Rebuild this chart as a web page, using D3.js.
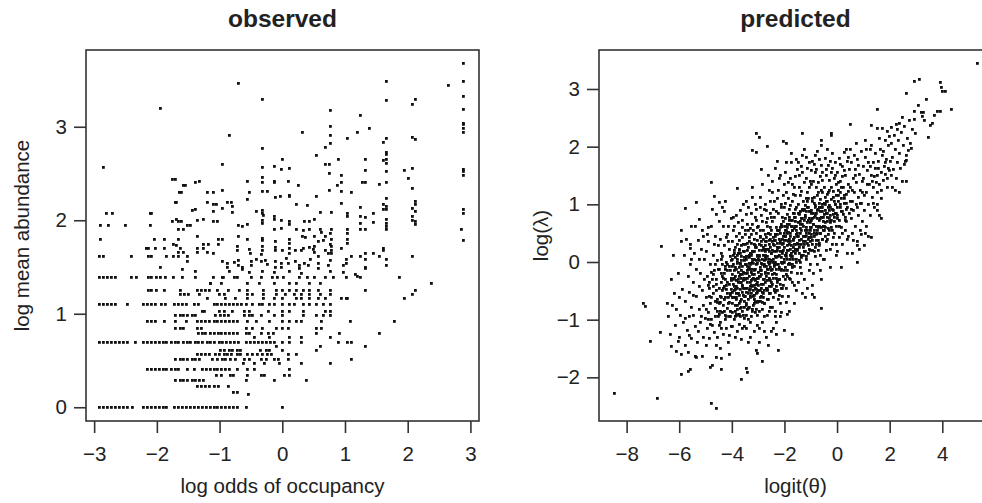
<!DOCTYPE html>
<html>
<head>
<meta charset="utf-8">
<script src="https://cdn.jsdelivr.net/npm/d3@7"></script>
<style>
  body { margin: 0; background: #fff; }
  svg { display: block; }
  text { font-family: "Liberation Sans", Arial, Helvetica, sans-serif; fill: #222; }
</style>
</head>
<body>
<svg id="chart" width="982" height="503"></svg>
<script>
// observed panel: many species sit on the same mean-abundance level, so rows of [y, xs]
const obsRows = [
  [0, [-2.92,-2.85,-2.79,-2.73,-2.66,-2.60,-2.54,-2.47,-2.39,-2.22,-2.15,-2.09,-2.03,-1.96,-1.90,-1.84,-1.72,-1.66,-1.59,-1.53,-1.47,-1.40,-1.34,-1.28,-1.21,-1.15,-1.09,-1.03,-0.97,-0.90,-0.84,-0.78,-0.71,-0.58,0.0]],
  [0.134, [-0.54]],
  [0.154, [-0.78,-0.72]],
  [0.223, [-1.35,-1.29,-1.22,-1.16,-1.09,-1.02,-0.86]],
  [0.288, [-1.70,-1.63,-1.57,-1.51,-1.44,-1.38,-1.32,-1.26,-0.57,-0.12,0.39]],
  [0.336, [-1.05,-0.97,-0.83,-0.78,-0.55,-0.33,-0.28,0.04,0.11]],
  [0.405, [-2.15,-2.09,-2.03,-1.96,-1.90,-1.84,-1.77,-1.71,-1.65,-1.52,-1.40,-1.28,-1.21,-1.15,-1.09,-1.03,-0.97,-0.90,-0.84,-0.71,-0.55,-0.44,0.11]],
  [0.47, [-0.62,-0.44,-0.28,-0.05,0.31,0.76]],
  [0.511, [-1.70,-1.63,-1.57,-1.51,-1.44,-1.38,-1.32,-1.12,-1.03,-0.96,-0.90,-0.82,-0.74,-0.60,-0.52,-0.34,-0.26,-0.12,-0.06,0.10,1.10]],
  [0.560, [-1.35,-1.29,-1.22,-1.16,-1.06,-1.00,-0.93,-0.87,-0.81,-0.71,-0.66,-0.55,-0.47,-0.39,-0.31,-0.23,-0.18,0.10,0.22]],
  [0.61, [-0.98,-0.92,-0.85,-0.79,-0.72,-0.66,-0.35,-0.25,-0.20,0.0,0.54]],
  [0.65, [-0.10,0.60,1.32]],
  [0.693, [-2.91,-2.85,-2.79,-2.72,-2.66,-2.60,-2.53,-2.47,-2.35,-2.22,-2.15,-2.09,-2.03,-1.96,-1.90,-1.84,-1.77,-1.71,-1.65,-1.58,-1.52,-1.46,-1.39,-1.33,-1.27,-1.20,-1.14,-1.08,-1.01,-0.95,-0.89,-0.82,-0.76,-0.70,-0.57,-0.51,-0.44,-0.38,-0.32,-0.25,-0.19,-0.13,0.0,0.11,0.31,0.89,1.04,1.10]],
  [0.75, [-0.44,-0.20,0.11,0.31,0.76]],
  [0.79, [-1.34,-1.28,-1.22,-1.15,-1.09,-1.02,-0.97,-0.90,-0.84,-0.78,-0.71,-0.57,-0.52,-0.33,-0.22,-0.14,0.54,0.91,1.55]],
  [0.847, [-1.70,-1.63,-1.57,-1.35,-1.29,-0.57,-0.47,-0.31,-0.10,0.0,0.10,0.54,0.63]],
  [0.916, [-2.15,-2.09,-2.03,-1.88,-1.70,-1.53,-1.35,-1.29,-1.22,-1.16,-1.09,-1.03,-0.97,-0.90,-0.84,-0.78,-0.71,-0.55,-0.42,-0.20,0.0,0.11,0.22,0.31,0.63,1.09,1.79]],
  [0.981, [-1.70,-1.63,-1.57,-1.51,-1.44,-1.38,-1.06,-0.99,-0.93,-0.86,-0.60,-0.53,-0.47,-0.33,-0.12,0.0,0.33,0.54,0.65,0.76]],
  [1.03, [-1.28,-1.24,-1.00,-0.93,-0.80,-0.60,-0.52,-0.22,0.0,0.11,0.33,0.69,0.76]],
  [1.099, [-2.92,-2.86,-2.79,-2.73,-2.66,-2.47,-2.22,-2.15,-2.09,-2.03,-1.92,-1.86,-1.72,-1.66,-1.59,-1.53,-1.40,-1.34,-1.09,-1.03,-0.97,-0.90,-0.84,-0.78,-0.71,-0.65,-0.57,-0.47,-0.36,-0.31,-0.20,-0.12,0.0,0.11,0.20,0.33,0.44,0.54,0.65,0.76]],
  [1.16, [-1.20,-0.90,-0.75,-0.55,-0.30,-0.12,0.0,0.22,0.30,0.44,0.57,0.69,0.95,1.02,1.04,1.95]],
  [1.204, [-1.62,-1.56,-1.50,-1.32,-1.00,-0.93,-0.55,-0.47,-0.30,-0.10,0.05,0.20,0.31,0.44,0.60,0.76,2.07]],
  [1.253, [-2.14,-2.08,-2.01,-1.88,-1.62,-1.35,-1.29,-1.22,-1.16,-1.04,-0.86,-0.69,-0.55,-0.30,-0.10,0.0,0.11,0.22,0.33,0.44,0.57,0.76,1.32,2.12]],
  [1.32, [-1.15,-0.97,-0.55,-0.36,-0.12,0.11,0.22,0.44,0.60,2.38]],
  [1.386, [-2.92,-2.86,-2.79,-2.73,-2.66,-2.41,-2.32,-2.14,-2.08,-2.00,-1.94,-1.87,-1.74,-1.60,-1.38,-1.10,-0.96,-0.94,-0.76,-0.71,-0.49,-0.33,-0.15,-0.07,0.01,0.28,0.40,0.52,0.68,0.81,1.02,1.25,1.86]],
  [1.609, [-2.92,-2.86,-2.41,-2.14,-2.08,-1.84,-1.73,-1.65,-1.52]]
];

// observed panel: points off the common levels
const obsScatter = [
  [-1.94,1.50],[-1.60,1.47],[-1.38,1.45],[-1.52,1.56],[-1.65,1.66],[-1.58,1.66],[-1.36,1.66],[-1.20,1.66],
  [-2.13,1.70],[-1.88,1.70],[-1.36,1.70],[-1.74,1.74],[-1.25,1.74],[-2.90,1.79],[-2.04,1.79],[-1.88,1.79],
  [-1.65,1.79],[-1.36,1.83],[-1.65,1.90],[-1.58,1.90],[-2.90,1.95],[-2.77,1.95],[-2.50,1.95],[-2.10,1.95],
  [-1.52,1.95],[-1.75,1.99],[-1.65,1.99],[-1.10,1.99],[-1.36,2.00],[-2.80,2.07],[-2.10,2.07],[-1.44,2.11],
  [-1.10,2.10],[-1.71,2.19],[-1.20,2.19],[-1.64,2.30],[-1.20,2.30],[-1.58,2.37],[-1.38,2.40],[-1.75,2.44],
  [-2.85,2.57],[-1.94,3.20],[-1.10,1.65],[-1.26,1.70],[-1.15,1.33],
  [0.54,2.69],[0.0,2.65],[0.68,2.60],[0.75,2.60],[0.90,2.65],[-0.96,2.60],[-0.32,2.57],[-0.12,2.58],
  [-0.02,2.54],[0.11,2.55],[0.75,2.50],[0.95,2.48],[-0.32,2.46],[-0.55,2.42],[-0.32,2.40],[-0.12,2.42],
  [-0.12,2.40],[0.09,2.42],[0.95,2.40],[0.88,2.37],[0.25,2.37],[-0.96,2.32],[-0.52,2.30],[-0.32,2.31],
  [-0.23,2.31],[0.75,2.32],[0.95,2.31],[-0.03,2.25],[0.11,2.27],[0.11,2.25],[0.54,2.26],[-0.11,2.24],
  [-0.55,2.22],[-0.88,2.19],[-0.81,2.19],[-0.96,2.13],[-0.79,2.15],[-0.79,2.08],[0.22,2.17],[0.40,2.16],
  [0.95,2.18],[-0.41,2.10],[-0.32,2.11],[-0.32,2.07],[-0.30,2.05],[-0.12,2.04],[-0.12,2.01],[-0.02,2.00],
  [0.60,2.08],[0.78,2.08],[1.04,2.07],[1.04,2.04],[0.11,1.99],[0.11,1.96],[-0.32,2.00],[-0.32,1.97],
  [0.35,1.99],[0.44,1.99],[0.52,2.01],[-0.70,1.95],[-0.63,1.93],[-0.55,1.96],[-0.12,1.90],[-0.02,1.91],
  [0.22,1.90],[0.33,1.89],[0.44,1.90],[0.60,1.90],[0.62,1.87],[0.78,1.90],[0.77,1.86],[1.04,1.90],
  [1.04,1.86],[-0.96,1.80],[-0.70,1.83],[-0.32,1.81],[-0.32,1.78],[-0.55,1.80],[-0.11,1.77],[0.11,1.79],
  [0.11,1.75],[0.52,1.83],[0.57,1.77],[0.32,1.83],[0.37,1.82],[0.69,1.83],[0.66,1.78],[0.78,1.79],
  [0.77,1.74],[1.04,1.79],[1.04,1.75],[-0.72,1.72],[-0.72,1.68],[-0.52,1.69],[-0.51,1.65],[-0.32,1.72],
  [-0.32,1.68],[-0.33,1.64],[-0.11,1.71],[-0.11,1.68],[0.0,1.68],[0.11,1.70],[0.11,1.65],[0.21,1.68],
  [0.30,1.68],[0.33,1.70],[0.44,1.71],[0.49,1.69],[0.52,1.72],[0.51,1.66],[0.68,1.68],[0.73,1.65],
  [0.78,1.72],[0.78,1.68],[0.78,1.65],[0.95,1.70],[-0.95,1.56],[-0.88,1.54],[-0.88,1.50],[-0.76,1.55],
  [-0.70,1.57],[-0.70,1.52],[-0.63,1.50],[-0.63,1.47],[-0.49,1.56],[-0.49,1.52],[-0.41,1.58],[-0.33,1.56],
  [-0.27,1.57],[-0.24,1.53],[-0.11,1.56],[-0.11,1.50],[-0.02,1.54],[-0.02,1.50],[0.06,1.59],[0.09,1.54],
  [0.21,1.56],[0.28,1.52],[0.28,1.49],[0.35,1.54],[0.41,1.52],[0.45,1.58],[0.57,1.54],[0.57,1.49],
  [0.57,1.61],[0.73,1.52],[0.77,1.57],[0.97,1.52],[1.02,1.58],[1.02,1.54],
  [-0.85,1.45],[-0.52,1.44],[-0.32,1.45],[-0.12,1.44],[0.11,1.45],[0.30,1.43],[0.76,1.45],[0.97,1.44],
  [2.89,3.68],[1.66,3.49],[2.89,3.48],[2.65,3.44],[-0.70,3.46],[2.89,3.32],[2.12,3.29],[2.07,3.24],
  [-0.32,3.29],[1.66,3.28],[2.89,3.19],[0.76,3.18],[1.25,3.12],[2.89,3.04],[2.89,3.02],[2.89,2.98],
  [2.89,2.94],[1.39,2.98],[0.76,3.00],[0.76,2.91],[0.32,2.94],[1.19,2.94],[-0.85,2.91],[1.04,2.88],
  [1.66,2.88],[2.07,2.89],[2.12,2.86],[1.61,2.83],[0.76,2.82],[0.68,2.78],[-0.32,2.77],[1.66,2.73],
  [1.66,2.70],[1.66,2.65],[1.66,2.61],[1.61,2.64],[1.33,2.65],[1.66,2.52],[1.33,2.53],[1.94,2.53],
  [2.07,2.55],[2.89,2.54],[2.89,2.52],[2.89,2.48],[2.01,2.45],[-1.32,2.42],[-1.71,2.44],[1.66,2.41],
  [1.28,2.41],[1.33,2.40],[1.55,2.38],[-1.55,2.37],[2.07,2.34],[1.10,2.30],[-1.10,2.30],[-1.61,2.30],
  [1.66,2.23],[-1.69,2.19],[-1.10,2.17],[-1.05,2.17],[2.12,2.20],[2.12,2.17],[1.61,2.17],[1.66,2.15],
  [1.66,2.12],[1.61,2.12],[1.25,2.14],[2.07,2.13],[2.12,2.09],[2.89,2.12],[2.89,2.07],[-1.38,2.12],
  [-2.08,2.07],[-2.71,2.07],[1.45,2.07],[2.07,2.04],[2.07,2.00],[1.25,2.04],[1.32,2.03],[-1.04,1.99],
  [-1.26,2.01],[1.66,2.01],[1.66,1.97],[1.66,1.93],[1.66,1.90],[2.12,1.99],[2.12,1.96],[-1.69,2.01],
  [-1.61,1.99],[-1.47,1.94],[1.25,1.97],[1.25,1.90],[1.33,1.90],[1.45,1.98],[-1.69,1.73],[-1.63,1.70],
  [-2.16,1.70],[-2.03,1.70],[-1.18,1.74],[-1.02,1.80],[-1.02,1.74],[1.61,1.70],[1.61,1.68],[1.66,1.58],
  [1.66,1.52],[1.55,1.61],[1.45,1.65],[1.33,1.65],[1.33,1.58],[2.07,1.61],[1.33,1.50],[1.33,1.48],
  [1.16,1.42],[1.19,1.40],[2.89,1.78],[2.85,1.90],[1.10,1.61],[1.25,1.61]
];

// predicted panel: logit(theta) vs log(lambda), outer and spread points
const predPoints = [
  [-8.47,-2.28],[-6.84,-2.36],[-4.79,-2.45],[-4.60,-2.54],[-7.35,-0.72],[-7.30,-0.77],[-7.10,-1.37],[-6.72,-1.22],
  [-6.67,0.27],[-4.79,1.38],[-3.78,1.28],[-4.66,1.13],[-4.47,1.03],[-5.36,1.03],[-5.77,0.93],[-5.23,0.74],
  [-5.55,0.62],[-5.11,0.55],[-4.94,0.47],[-5.91,0.35],[-5.58,0.31],[-5.59,0.24],[-6.19,-0.54],[-6.44,-0.72],
  [-6.25,-0.75],[-6.12,-0.83],[-6.30,-1.47],[-6.02,-1.38],[-5.75,-1.45],[-5.60,-1.28],[-5.90,-1.60],[-5.64,-1.56],
  [-5.38,-1.63],[-5.12,-1.63],[-5.92,-1.95],[-5.67,-1.90],[-5.58,-1.87],[-4.80,-1.82],[-4.73,-1.79],[-4.41,-1.87],
  [-4.60,-1.65],[-4.41,-1.67],[-4.10,-1.61],[-3.46,-1.85],[-3.42,-1.91],[-3.62,-2.03],[-3.08,-1.53],[-3.01,-1.59],
  [-2.82,-1.72],[-2.23,-1.53],[-2.32,-1.25],[-2.00,-1.18],[-1.71,-1.25],[-0.61,-0.80],[-0.93,-0.57],[-0.87,-0.62],
  [0.76,-0.01],[1.04,0.28],[0.79,0.29],[1.32,0.43],[1.62,0.80],[1.68,0.75],[1.55,0.90],
  [5.35,3.45],[2.94,3.14],[3.13,3.17],[3.93,3.12],[3.98,3.03],[4.11,2.95],[2.62,2.92],[1.55,2.64],
  [4.36,2.65],[2.94,2.62],[3.19,2.59],[3.26,2.52],[3.32,2.46],[3.93,2.62],[3.70,2.55],[3.55,2.36],
  [3.47,2.16],[0.51,2.39],[2.50,2.51],[2.37,2.40],[2.24,2.39],[1.32,2.36],[1.55,2.32],[1.74,2.31],
  [2.06,2.34],[1.93,2.27],[2.00,2.18],[2.97,2.23],[2.84,1.97],[2.71,1.94],[2.62,1.85],[2.65,1.77],
  [2.56,1.70],[2.65,1.40],[2.50,1.39],[2.37,1.21],[2.20,1.24],[-1.31,2.23],[-3.08,2.23],[-2.95,2.16],
  [-0.20,2.23],[-0.20,2.19],[-0.61,2.10],[-0.61,2.02],[-2.03,2.09],[-1.93,2.05],[-2.64,2.00],[-3.20,1.94],[-3.05,1.90],
  // x from -6.5 to -5.5
  [-6.40,-0.95],[-6.30,-0.30],[-6.15,-1.10],[-6.05,-0.20],[-6.22,0.12],[-6.10,-1.55],[-6.35,-1.25],[-6.00,-0.62],
  [-5.95,-0.92],[-5.88,-0.47],[-5.85,-1.05],[-5.80,0.12],[-5.75,-0.68],[-5.70,-1.18],[-5.66,-0.25],[-5.62,-0.95],
  [-5.58,-0.05],[-5.55,-1.32],[-5.52,-0.78],[-5.90,0.55],[-5.72,0.40],[-5.60,-0.52],[-5.98,-1.30],[-5.53,0.05],[-5.78,-0.98],
  // -5.5 to -5
  [-5.48,-0.35],[-5.45,-0.92],[-5.42,0.15],[-5.40,-1.12],[-5.36,-0.60],[-5.33,-0.12],[-5.30,-1.40],[-5.27,0.38],
  [-5.24,-0.82],[-5.20,-0.20],[-5.18,-1.05],[-5.15,0.22],[-5.12,-0.50],[-5.10,-1.30],[-5.07,-0.75],[-5.04,0.05],
  [-5.02,-0.98],[-5.46,-0.58],[-5.38,0.62],[-5.28,-1.20],[-5.22,-0.42],[-5.16,-0.95],[-5.08,0.45],[-5.03,-0.30],
  [-5.35,-1.65],[-5.25,0.05],
  // -5 to -4.5
  [-4.98,-0.62],[-4.96,0.18],[-4.94,-1.15],[-4.92,-0.25],[-4.90,-0.88],[-4.88,0.35],[-4.86,-0.45],[-4.84,-1.32],
  [-4.82,-0.05],[-4.80,-0.72],[-4.78,0.62],[-4.76,-1.00],[-4.74,-0.30],[-4.72,0.12],[-4.70,-0.55],[-4.68,-1.22],
  [-4.66,-0.15],[-4.64,0.45],[-4.62,-0.80],[-4.60,-0.38],[-4.58,-1.45],[-4.56,0.02],[-4.54,-0.65],[-4.52,0.28],
  [-4.50,-0.95],[-4.97,-1.45],[-4.91,0.60],[-4.85,-0.60],[-4.79,-0.18],[-4.73,-1.10],[-4.67,0.30],[-4.61,-0.05],
  [-4.55,-0.85],[-4.53,-1.30],[-4.89,-1.00],[-4.69,-0.42],[-4.59,0.82],[-4.75,0.92],[-4.87,-0.35],[-4.63,-0.68],
  // -4.5 to -4
  [-4.49,-0.12],[-4.47,-0.72],[-4.45,0.40],[-4.43,-1.05],[-4.41,-0.35],[-4.39,0.15],[-4.37,-0.88],[-4.35,-0.50],
  [-4.33,0.62],[-4.31,-1.25],[-4.29,-0.20],[-4.27,0.28],[-4.25,-0.62],[-4.23,-1.00],[-4.21,0.00],[-4.19,-0.40],
  [-4.17,0.48],[-4.15,-0.80],[-4.13,-1.40],[-4.11,-0.08],[-4.09,0.22],[-4.07,-0.55],[-4.05,-0.95],[-4.03,0.75],
  [-4.01,-0.28],[-4.48,-0.45],[-4.44,-1.50],[-4.40,0.05],[-4.36,-0.25],[-4.32,-0.75],[-4.28,0.88],[-4.24,-0.12],
  [-4.20,-1.15],[-4.16,-0.35],[-4.12,0.35],[-4.08,-0.70],[-4.04,-0.15],[-4.02,-1.12],[-4.46,0.70],[-4.42,-0.60],
  [-4.38,-1.15],[-4.34,0.10],[-4.30,-0.42],[-4.26,-0.92],[-4.22,0.42],[-4.18,-0.05],[-4.14,-0.62],[-4.10,-1.28],
  [-4.06,0.10],[-4.00,-0.48],[-4.26,1.05],[-4.12,0.62],[-4.36,0.95],[-4.46,-0.90],[-4.06,-0.85],
  // -4 to -3.5
  [-3.99,-0.62],[-3.97,0.05],[-3.95,-0.30],[-3.93,0.55],[-3.91,-1.00],[-3.89,-0.15],[-3.87,0.25],[-3.85,-0.75],
  [-3.83,-0.42],[-3.81,0.80],[-3.79,-1.20],[-3.77,0.00],[-3.75,-0.55],[-3.73,0.38],[-3.71,-0.90],[-3.69,-0.22],
  [-3.67,0.15],[-3.65,-1.35],[-3.63,-0.65],[-3.61,0.60],[-3.59,-0.08],[-3.57,-0.45],[-3.55,0.30],[-3.53,-0.98],
  [-3.51,-0.28],[-3.98,0.35],[-3.96,-0.88],[-3.94,-0.05],[-3.92,-0.50],[-3.90,0.15],[-3.88,-1.30],[-3.86,-0.25],
  [-3.84,0.45],[-3.82,-0.62],[-3.80,-0.02],[-3.78,-0.82],[-3.76,0.68],[-3.74,-0.35],[-3.72,-1.08],[-3.70,0.20],
  [-3.68,-0.48],[-3.66,0.90],[-3.64,-0.15],[-3.62,-0.78],[-3.60,0.42],[-3.58,-1.15],[-3.56,-0.32],[-3.54,0.08],
  [-3.52,-0.68],[-3.50,0.55],[-3.97,-1.12],[-3.93,-0.38],[-3.89,0.62],[-3.85,-0.10],[-3.81,-0.55],[-3.77,0.30],
  [-3.73,-0.72],[-3.69,-0.02],[-3.65,0.28],[-3.61,-0.40],[-3.57,-0.92],[-3.53,0.18],[-3.95,0.78],[-3.87,-0.62],
  [-3.79,0.12],[-3.71,0.50],[-3.63,-0.28],[-3.55,-0.58],[-3.91,0.20],[-3.83,-0.90],[-3.75,-0.18],[-3.67,-0.95],
  [-3.59,0.72],[-3.51,-1.12],[-3.57,1.00],
  // -3.5 to -3
  [-3.49,-0.20],[-3.47,0.30],[-3.45,-0.72],[-3.43,0.05],[-3.41,-0.45],[-3.39,0.65],[-3.37,-1.00],[-3.35,-0.10],
  [-3.33,0.42],[-3.31,-0.60],[-3.29,0.15],[-3.27,-0.32],[-3.25,0.85],[-3.23,-0.85],[-3.21,0.00],[-3.19,-0.50],
  [-3.17,0.55],[-3.15,-1.20],[-3.13,-0.15],[-3.11,0.25],[-3.09,-0.68],[-3.07,0.72],[-3.05,-0.38],[-3.03,0.10],
  [-3.01,-0.92],[-3.48,0.48],[-3.46,-0.05],[-3.44,-1.15],[-3.42,0.20],[-3.40,-0.28],[-3.38,0.95],[-3.36,-0.55],
  [-3.34,0.08],[-3.32,-0.78],[-3.30,0.58],[-3.28,-0.12],[-3.26,-0.95],[-3.24,0.32],[-3.22,-0.42],[-3.20,1.12],
  [-3.18,-0.02],[-3.16,-0.65],[-3.14,0.40],[-3.12,-0.30],[-3.10,0.78],[-3.08,-0.82],[-3.06,0.02],[-3.04,-0.52],
  [-3.02,0.38],[-3.00,-0.18],[-3.47,-0.60],[-3.43,0.82],[-3.39,-0.35],[-3.35,0.35],[-3.31,-1.05],[-3.27,0.48],
  [-3.23,-0.22],[-3.19,0.18],[-3.15,-0.40],[-3.11,-0.88],[-3.07,0.50],[-3.03,-0.28],[-3.45,0.10],[-3.37,-0.12],
  [-3.29,-0.48],[-3.21,0.65],[-3.13,-0.58],[-3.05,0.92],[-3.41,-0.82],[-3.33,-0.25],[-3.25,0.12],[-3.17,-0.75],
  [-3.09,0.28],[-3.01,0.60],[-3.44,1.05],[-3.36,0.55],[-3.28,-1.30],[-3.20,-0.30],[-3.12,1.00],[-3.04,-1.10],
  [-3.46,-0.92],[-3.30,-0.02],[-3.14,0.05],[-3.22,1.30],[-3.38,-1.40],
  // -3 to -2.5
  [-2.99,-0.40],[-2.97,0.10],[-2.95,-0.85],[-2.93,0.45],[-2.91,-0.15],[-2.89,0.80],[-2.87,-0.60],[-2.85,0.20],
  [-2.83,-1.05],[-2.81,-0.30],[-2.79,0.55],[-2.77,-0.05],[-2.75,-0.72],[-2.73,0.35],[-2.71,1.00],[-2.69,-0.45],
  [-2.67,0.05],[-2.65,-0.92],[-2.63,0.62],[-2.61,-0.20],[-2.59,0.30],[-2.57,-0.55],[-2.55,0.85],[-2.53,-0.10],
  [-2.51,-1.20],[-2.98,0.62],[-2.96,-0.25],[-2.94,0.02],[-2.92,-0.68],[-2.90,1.12],[-2.88,0.28],[-2.86,-0.38],
  [-2.84,0.70],[-2.82,-0.82],[-2.80,0.12],[-2.78,-0.50],[-2.76,0.92],[-2.74,-0.18],[-2.72,0.48],[-2.70,-1.30],
  [-2.68,0.22],[-2.66,-0.32],[-2.64,0.75],[-2.62,-0.65],[-2.60,0.00],[-2.58,1.25],[-2.56,-0.42],[-2.54,0.40],
  [-2.52,-0.78],[-2.50,0.15],[-2.97,-1.15],[-2.93,0.95],[-2.89,-0.02],[-2.85,-0.52],[-2.81,0.40],[-2.77,-0.95],
  [-2.73,0.08],[-2.69,0.68],[-2.65,-0.12],[-2.61,0.50],[-2.57,-0.30],[-2.53,0.60],[-2.95,0.30],[-2.87,-0.15],
  [-2.79,-0.62],[-2.71,0.18],[-2.63,-0.48],[-2.55,0.25],[-2.91,0.55],[-2.83,1.35],[-2.75,-0.30],[-2.67,0.90],
  [-2.59,-0.85],[-2.51,0.78],[-2.99,-0.68],[-2.70,0.42],[-2.62,1.50],[-2.86,1.60],[-2.78,-1.20],[-2.56,-0.05],
  [-2.60,-1.45],[-2.94,-1.40],[-2.52,1.05],
  // -2.5 to -2
  [-2.49,-0.35],[-2.47,0.20],[-2.45,0.70],[-2.43,-0.62],[-2.41,0.05],[-2.39,1.05],[-2.37,-0.20],[-2.35,0.45],
  [-2.33,-0.85],[-2.31,0.88],[-2.29,-0.05],[-2.27,0.32],[-2.25,-0.50],[-2.23,1.25],[-2.21,0.12],[-2.19,-0.30],
  [-2.17,0.60],[-2.15,-0.72],[-2.13,0.95],[-2.11,0.00],[-2.09,0.40],[-2.07,-0.45],[-2.05,1.15],[-2.03,0.20],
  [-2.01,-0.15],[-2.48,0.55],[-2.46,-0.12],[-2.44,1.40],[-2.42,0.30],[-2.40,-0.48],[-2.38,0.78],[-2.36,-0.95],
  [-2.34,0.10],[-2.32,0.60],[-2.30,-0.28],[-2.28,1.10],[-2.26,0.48],[-2.24,-0.65],[-2.22,0.85],[-2.20,-0.10],
  [-2.18,0.25],[-2.16,1.50],[-2.14,-0.38],[-2.12,0.65],[-2.10,-0.88],[-2.08,0.15],[-2.06,0.78],[-2.04,-0.25],
  [-2.02,0.50],[-2.00,1.35],[-2.47,-0.78],[-2.43,0.92],[-2.39,-0.08],[-2.35,1.62],[-2.31,0.18],[-2.27,-0.35],
  [-2.23,0.55],[-2.19,-0.58],[-2.15,0.35],[-2.11,1.00],[-2.07,-0.02],[-2.03,0.70],[-2.45,1.20],[-2.37,0.38],
  [-2.29,-1.05],[-2.21,1.45],[-2.13,-0.15],[-2.05,0.32],[-2.41,-1.15],[-2.25,1.75],[-2.09,-0.60],[-2.33,0.00],
  [-2.17,-0.95],[-2.01,0.95],[-2.44,-0.22],
  // -2 to -1.5
  [-1.99,0.25],[-1.97,-0.30],[-1.95,0.75],[-1.93,0.10],[-1.91,1.20],[-1.89,-0.15],[-1.87,0.50],[-1.85,-0.60],
  [-1.83,0.92],[-1.81,0.30],[-1.79,1.45],[-1.77,-0.05],[-1.75,0.62],[-1.73,0.15],[-1.71,1.05],[-1.69,-0.35],
  [-1.67,0.40],[-1.65,0.85],[-1.63,-0.08],[-1.61,1.30],[-1.59,0.22],[-1.57,0.70],[-1.55,-0.50],[-1.53,0.48],
  [-1.51,1.60],[-1.98,0.55],[-1.96,1.02],[-1.94,-0.45],[-1.92,0.38],[-1.90,0.82],[-1.88,0.05],[-1.86,1.38],
  [-1.84,0.20],[-1.82,0.65],[-1.80,-0.28],[-1.78,0.98],[-1.76,0.35],[-1.74,1.72],[-1.72,-0.18],[-1.70,0.55],
  [-1.68,0.10],[-1.66,1.18],[-1.64,0.30],[-1.62,-0.72],[-1.60,0.78],[-1.58,1.48],[-1.56,0.05],[-1.54,0.95],
  [-1.52,0.32],[-1.50,-0.20],[-1.97,1.55],[-1.93,-0.70],[-1.89,0.60],[-1.85,1.10],[-1.81,-0.02],[-1.77,0.45],
  [-1.73,1.88],[-1.69,0.72],[-1.65,0.18],[-1.61,-0.40],[-1.57,1.15],[-1.53,0.62],[-1.95,0.45],[-1.87,-0.90],
  [-1.79,0.22],[-1.71,1.35],[-1.63,0.58],[-1.55,1.78],[-1.91,1.72],[-1.83,-0.85],
  // -1.5 to -1
  [-1.49,0.50],[-1.47,1.00],[-1.45,0.15],[-1.43,1.50],[-1.41,0.70],[-1.39,-0.10],[-1.37,1.22],[-1.35,0.40],
  [-1.33,0.90],[-1.31,1.85],[-1.29,0.25],[-1.27,0.62],[-1.25,1.38],[-1.23,-0.30],[-1.21,0.80],[-1.19,0.35],
  [-1.17,1.10],[-1.15,0.05],[-1.13,1.62],[-1.11,0.55],[-1.09,0.95],[-1.07,-0.15],[-1.05,1.30],[-1.03,0.68],
  [-1.01,0.20],[-1.48,1.72],[-1.46,-0.35],[-1.44,0.82],[-1.42,0.30],[-1.40,1.15],[-1.38,0.58],[-1.36,1.65],
  [-1.34,0.12],[-1.32,0.75],[-1.30,-0.55],[-1.28,1.05],[-1.26,0.45],[-1.24,1.95],[-1.22,0.18],[-1.20,0.98],
  [-1.18,1.45],[-1.16,0.50],[-1.14,-0.45],[-1.12,1.20],[-1.10,0.72],[-1.08,0.28],[-1.06,1.72],[-1.04,0.88],
  [-1.02,-0.05],[-1.00,1.40],[-1.45,1.30],[-1.35,-0.20],[-1.25,0.92],[-1.15,1.82],[-1.05,0.42],[-1.40,0.00],
  [-1.20,-0.62],[-1.30,1.55],[-1.10,1.10],[-1.00,0.60],
  // -1 to -0.5
  [-0.99,0.90],[-0.97,1.35],[-0.95,0.30],[-0.93,1.75],[-0.91,0.65],[-0.89,-0.20],[-0.87,1.12],[-0.85,0.45],
  [-0.83,1.55],[-0.81,0.10],[-0.79,0.85],[-0.77,1.30],[-0.75,0.55],[-0.73,1.92],[-0.71,0.20],[-0.69,1.02],
  [-0.67,0.72],[-0.65,1.48],[-0.63,-0.15],[-0.61,0.95],[-0.59,1.68],[-0.57,0.40],[-0.55,1.20],[-0.53,0.78],
  [-0.51,0.05],[-0.98,1.58],[-0.96,0.48],[-0.94,1.05],[-0.92,-0.40],[-0.90,1.40],[-0.88,0.78],[-0.86,0.18],
  [-0.84,1.85],[-0.82,0.98],[-0.80,0.38],[-0.78,1.60],[-0.76,-0.05],[-0.74,1.15],[-0.72,0.60],[-0.70,1.38],
  [-0.68,0.28],[-0.66,1.78],[-0.64,0.88],[-0.62,0.50],[-0.60,1.25],[-0.58,-0.30],[-0.56,0.95],[-0.54,1.55],
  [-0.52,0.62],[-0.50,1.02],[-0.95,0.75],[-0.85,1.70],[-0.75,0.90],[-0.65,0.12],[-0.55,1.42],
  // -0.5 to 0
  [-0.49,1.30],[-0.47,0.55],[-0.45,1.80],[-0.43,0.90],[-0.41,0.20],[-0.39,1.50],[-0.37,1.05],[-0.35,0.40],
  [-0.33,1.68],[-0.31,0.75],[-0.29,1.25],[-0.27,-0.10],[-0.25,0.95],[-0.23,1.55],[-0.21,0.60],[-0.19,1.88],
  [-0.17,0.30],[-0.15,1.12],[-0.13,0.82],[-0.11,1.45],[-0.09,0.50],[-0.07,1.72],[-0.05,1.00],[-0.03,0.12],
  [-0.01,1.35],[-0.48,0.05],[-0.46,1.12],[-0.44,0.68],[-0.42,1.60],[-0.40,0.35],[-0.38,0.85],[-0.36,1.95],
  [-0.34,1.20],[-0.32,0.48],[-0.30,1.42],[-0.28,0.98],[-0.26,0.22],[-0.24,1.75],[-0.22,0.72],[-0.20,1.30],
  [-0.18,0.92],[-0.16,1.62],[-0.14,0.42],[-0.12,1.05],[-0.10,0.70],[-0.08,1.50],[-0.06,0.85],[-0.04,0.30],
  [-0.02,1.15],[0.00,0.95],
  // 0 to 0.5
  [0.01,1.55],[0.03,0.75],[0.05,1.25],[0.07,0.42],[0.09,1.80],[0.11,0.95],[0.13,1.40],[0.15,0.60],
  [0.17,1.10],[0.19,1.65],[0.21,0.30],[0.23,1.30],[0.25,0.82],[0.27,1.90],[0.29,1.02],[0.31,0.55],
  [0.33,1.50],[0.35,1.18],[0.37,0.70],[0.39,1.75],[0.41,0.95],[0.43,1.35],[0.45,0.45],[0.47,1.60],
  [0.49,1.05],[0.02,0.18],[0.06,1.05],[0.10,0.62],[0.14,1.70],[0.18,0.88],[0.22,1.48],[0.26,1.15],
  [0.30,0.72],[0.34,1.95],[0.38,0.40],[0.42,1.22],[0.46,0.85],[0.04,1.38],[0.12,1.20],[0.20,0.50],
  [0.28,1.58],[0.36,0.92],[0.44,1.82],[0.16,-0.10],[0.40,0.15],
  // 0.5 to 1
  [0.51,1.30],[0.53,0.75],[0.55,1.72],[0.57,1.05],[0.59,0.50],[0.61,1.45],[0.63,0.90],[0.65,1.85],
  [0.67,1.20],[0.69,0.62],[0.71,1.60],[0.73,1.00],[0.75,1.38],[0.77,0.35],[0.79,1.78],[0.81,1.12],
  [0.83,0.80],[0.85,1.52],[0.87,1.25],[0.89,0.55],[0.91,1.92],[0.93,1.02],[0.95,1.40],[0.97,0.70],
  [0.99,1.65],[0.52,1.95],[0.58,1.25],[0.64,0.38],[0.70,1.50],[0.76,0.95],[0.82,1.68],[0.88,1.02],
  [0.94,0.48],[0.60,0.15],[0.72,2.05],[0.84,0.22],[0.96,1.20],[0.56,0.92],
  // 1 and above
  [1.01,1.45],[1.04,0.90],[1.07,1.82],[1.10,1.20],[1.13,0.62],[1.16,1.58],[1.19,1.00],[1.22,1.35],
  [1.25,1.95],[1.28,0.80],[1.31,1.50],[1.34,1.12],[1.37,1.72],[1.40,1.30],[1.43,0.95],[1.46,1.62],
  [1.49,1.38],[1.03,1.15],[1.09,2.10],[1.15,1.35],[1.21,0.45],[1.27,1.65],[1.33,1.40],[1.39,1.02],
  [1.45,1.88],[1.06,0.50],[1.18,1.72],[1.30,2.02],[1.42,1.48],[1.12,1.95],
  [1.52,1.50],[1.55,1.20],[1.58,1.75],[1.61,1.35],[1.64,1.95],[1.67,1.55],[1.70,1.10],[1.73,1.85],
  [1.76,1.42],[1.79,1.65],[1.82,2.10],[1.85,1.52],[1.88,1.78],[1.91,1.30],[1.94,1.62],[1.97,2.02],
  [1.53,1.00],[1.60,2.15],[1.68,1.25],[1.75,1.92],[1.83,1.72],[1.90,1.45],[1.98,1.58],[1.57,1.62],
  [2.02,1.75],[2.05,1.50],[2.08,2.05],[2.12,1.82],[2.15,1.60],[2.18,2.20],[2.22,1.95],[2.26,1.45],
  [2.30,1.72],[2.34,2.10],[2.38,1.88],[2.42,1.62],[2.46,2.25],[2.10,1.30],[2.28,2.30],
  [2.52,2.02],[2.58,1.75],[2.68,2.15],[2.78,2.05],[2.88,2.30],[2.75,2.45],[2.55,2.35],[2.95,2.48],
  [3.08,2.72],[3.28,2.60],[3.40,2.82],[3.62,2.40],[3.80,2.62],[4.02,2.95]
];

// predicted panel: the dense core of the cloud
const predCore = [
  [-4.95,-0.82],[-4.90,-0.40],[-4.82,-1.08],[-4.76,-0.62],[-4.70,-0.22],[-4.64,-0.95],[-4.57,-0.50],[-4.52,-0.12],[-4.47,-1.10],[-4.44,-0.70],
  [-4.38,-0.62],[-4.33,-0.28],[-4.27,-0.85],[-4.22,-0.48],[-4.18,-0.15],[-4.12,-0.72],[-4.08,-0.38],[-4.03,0.02],[-4.35,-0.05],[-4.20,-0.95],[-4.05,-0.58],
  [-3.99,-0.22],[-3.96,-0.72],[-3.93,0.12],[-3.90,-0.42],[-3.87,-0.85],[-3.84,-0.12],[-3.81,-0.65],[-3.78,0.05],[-3.76,-0.30],[-3.98,-0.52],[-3.85,-0.48],[-3.79,-0.92],
  [-3.74,-0.55],[-3.71,-0.10],[-3.68,-0.68],[-3.65,-0.35],[-3.62,0.10],[-3.60,-0.85],[-3.57,-0.18],[-3.54,-0.60],[-3.52,0.02],[-3.73,-0.25],[-3.66,-0.05],[-3.58,-0.42],[-3.70,0.22],
  [-3.49,-0.45],[-3.46,0.10],[-3.43,-0.75],[-3.40,-0.15],[-3.38,0.25],[-3.35,-0.50],[-3.32,-0.02],[-3.29,-0.62],[-3.27,0.15],[-3.48,-0.30],[-3.42,-0.08],[-3.36,-0.80],[-3.30,-0.35],[-3.26,-0.18],
  [-3.24,-0.40],[-3.21,0.18],[-3.18,-0.60],[-3.16,-0.22],[-3.13,0.30],[-3.10,-0.45],[-3.07,-0.05],[-3.04,-0.70],[-3.02,0.12],[-3.23,-0.12],[-3.17,0.05],[-3.11,-0.32],[-3.05,-0.48],[-3.20,-0.82],
  [-2.99,-0.28],[-2.96,0.20],[-2.93,-0.50],[-2.90,-0.10],[-2.88,0.35],[-2.85,-0.70],[-2.82,0.05],[-2.79,-0.38],[-2.77,0.22],[-2.98,0.05],[-2.92,-0.62],[-2.86,-0.22],[-2.80,-0.55],[-2.76,-0.08],
  [-2.74,-0.20],[-2.71,0.28],[-2.68,-0.45],[-2.65,0.10],[-2.63,-0.65],[-2.60,-0.12],[-2.57,0.38],[-2.54,-0.32],[-2.52,0.00],[-2.73,0.12],[-2.67,-0.25],[-2.61,0.50],[-2.55,-0.55],[-2.58,0.18],
  [-2.49,0.15],[-2.46,-0.38],[-2.43,0.42],[-2.40,-0.05],[-2.38,0.28],[-2.35,-0.52],[-2.32,0.08],[-2.29,-0.22],[-2.27,0.55],[-2.48,-0.15],[-2.42,0.00],[-2.36,0.38],[-2.30,-0.42],[-2.26,0.20],
  [-2.24,-0.05],[-2.21,0.40],[-2.18,-0.30],[-2.15,0.18],[-2.13,0.62],[-2.10,-0.12],[-2.07,0.30],[-2.04,-0.40],[-2.02,0.05],[-2.23,0.25],[-2.17,0.50],[-2.11,0.08],[-2.05,0.45],
  [-1.99,0.00],[-1.96,0.45],[-1.93,-0.22],[-1.90,0.28],[-1.88,0.65],[-1.85,-0.05],[-1.82,0.40],[-1.79,0.12],[-1.77,-0.30],[-1.98,0.62],[-1.92,0.15],[-1.86,0.52],[-1.80,0.72],
  [-1.74,0.10],[-1.71,0.55],[-1.68,-0.10],[-1.65,0.38],[-1.63,0.78],[-1.60,0.20],[-1.57,0.62],[-1.54,0.00],[-1.52,0.45],[-1.73,0.72],[-1.67,0.25],[-1.61,0.85],[-1.55,0.30],
  [-1.49,0.22],[-1.46,0.68],[-1.43,0.02],[-1.40,0.50],[-1.38,0.88],[-1.35,0.30],[-1.32,0.65],[-1.29,0.12],[-1.27,0.45],[-1.48,0.85],[-1.42,0.38],[-1.36,0.75],
  [-1.24,0.30],[-1.21,0.78],[-1.18,0.10],[-1.15,0.60],[-1.13,0.95],[-1.10,0.40],[-1.07,0.75],[-1.04,0.22],[-1.02,0.55],[-1.23,0.90],[-1.17,0.45],[-1.11,1.05],
  [-0.99,0.42],[-0.96,0.85],[-0.93,0.20],[-0.90,0.65],[-0.88,1.02],[-0.85,0.50],[-0.82,0.80],[-0.79,0.30],[-0.77,0.62],[-0.98,0.72],[-0.92,1.10],
  [-0.74,0.50],[-0.71,0.92],[-0.68,0.32],[-0.65,0.75],[-0.63,1.08],[-0.60,0.60],[-0.57,0.88],[-0.54,0.40],[-0.52,0.70],[-0.70,1.20],
  [-0.49,0.62],[-0.46,1.00],[-0.43,0.45],[-0.40,0.85],[-0.38,1.18],[-0.35,0.70],[-0.32,0.95],[-0.29,0.55],[-0.27,0.80],
  [-0.24,0.70],[-0.21,1.08],[-0.18,0.55],[-0.15,0.90],[-0.13,1.22],[-0.10,0.78],[-0.07,1.00],[-0.04,0.62],[-0.02,0.85],
  [0.02,0.80],[0.06,1.15],[0.10,0.72],[0.14,1.00],[0.18,1.30],[0.22,0.88],[0.27,1.10],[0.32,0.78],[0.37,1.02],
  // second pass through the darkest part
  [-4.31,-0.45],[-4.24,-0.08],[-4.16,-0.55],[-4.09,-0.95],[-4.02,-0.32],[-4.60,-0.30],[-4.55,-0.70],[-4.42,-0.85],[-4.40,-0.20],[-4.28,-0.65],[-4.25,-0.30],
  [-3.97,-0.08],[-3.94,-0.62],[-3.91,-0.28],[-3.88,0.08],[-3.86,-0.95],[-3.83,-0.32],[-3.80,-0.75],[-3.77,-0.45],[-3.75,0.15],[-3.72,-0.58],
  [-3.69,-0.35],[-3.67,-0.80],[-3.64,0.02],[-3.61,-0.52],[-3.59,-0.22],[-3.56,0.18],[-3.53,-0.45],[-3.51,-0.78],
  [-3.48,-0.05],[-3.45,-0.52],[-3.42,0.32],[-3.39,-0.20],[-3.37,-0.65],[-3.34,0.12],[-3.31,-0.42],[-3.28,-0.05],[-3.25,-0.55],
  [-3.22,0.05],[-3.19,-0.28],[-3.16,-0.72],[-3.14,0.18],[-3.11,-0.12],[-3.08,-0.55],[-3.06,0.25],[-3.03,-0.35],[-3.01,-0.02],
  [-2.98,-0.50],[-2.95,0.12],[-2.92,-0.25],[-2.90,0.42],[-2.87,-0.45],[-2.84,-0.05],[-2.81,0.25],[-2.78,-0.72],[-2.75,0.02],
  [-2.72,-0.35],[-2.70,0.35],[-2.67,-0.08],[-2.64,-0.50],[-2.62,0.22],[-2.59,-0.28],[-2.56,0.05],[-2.53,0.48],[-2.51,-0.42],
  [-2.48,0.02],[-2.45,0.35],[-2.42,-0.28],[-2.39,0.18],[-2.37,-0.50],[-2.34,0.48],[-2.31,-0.12],[-2.28,0.25],[-2.26,-0.32],
  [-2.23,0.10],[-2.20,0.55],[-2.18,-0.12],[-2.15,0.32],[-2.12,-0.45],[-2.09,0.18],[-2.06,0.62],[-2.04,0.00],[-2.01,0.38],
  [-1.98,0.12],[-1.95,-0.10],[-1.92,0.55],[-1.90,0.20],[-1.87,-0.25],[-1.84,0.35],[-1.81,0.78],[-1.78,0.05],[-1.76,0.50],
  [-1.73,0.28],[-1.70,-0.05],[-1.68,0.62],[-1.65,0.05],[-1.62,0.42],[-1.59,0.92],[-1.57,0.15],[-1.54,0.55],[-1.51,0.20],
  [-1.48,0.45],[-1.45,0.85],[-1.43,0.25],[-1.40,0.65],[-1.37,0.08],[-1.34,0.55],[-1.31,0.92],[-1.28,0.35],[-1.26,0.72],
  [-1.23,0.18],[-1.20,0.55],[-1.17,0.88],[-1.14,0.32],[-1.12,0.68],[-1.09,0.15],[-1.06,0.50],[-1.03,0.88],[-1.01,0.35],
  [-0.97,0.60],[-0.94,0.38],[-0.91,0.85],[-0.87,0.55],[-0.84,0.25],[-0.81,0.95],[-0.78,0.48],[-0.75,0.75],
  [-0.72,0.38],[-0.69,0.62],[-0.66,0.95],[-0.62,0.50],[-0.59,0.78],[-0.56,1.00],[-0.53,0.55],
  [-0.48,0.82],[-0.44,0.60],[-0.41,1.05],[-0.37,0.78],[-0.33,0.58],[-0.30,0.90],[-0.26,0.68]
];

const obsXTicks = [-3, -2, -1, 0, 1, 2, 3];
const obsYTicks = [0, 1, 2, 3];
const predXTicks = [-8, -6, -4, -2, 0, 2, 4];
const predYTicks = [-2, -1, 0, 1, 2, 3];

const obsPoints = [];
obsRows.forEach(r => r[1].forEach(x => obsPoints.push([x, r[0]])));
obsScatter.forEach(p => obsPoints.push(p));
const predAll = predPoints.concat(predCore);

const svg = d3.select("#chart");
const plotTop = 50, plotBottom = 421, plotW = 393, dot = 2.8;
const fmt = d3.format("d");

function panel(o) {
  const x = d3.scaleLinear().domain(o.xDomain).range([o.left, o.left + plotW]);
  const y = d3.scaleLinear().domain(o.yDomain).range([plotBottom, plotTop]);
  const g = svg.append("g");

  // snap each dot to the pixel grid so it stays solid like the original
  g.append("g").selectAll("rect")
    .data(o.points)
    .join("rect")
      .attr("x", d => Math.round(x(d[0]) - dot / 2))
      .attr("y", d => Math.round(y(d[1]) - dot / 2))
      .attr("width", dot)
      .attr("height", dot)
      .attr("fill", "#111");

  // box
  g.append("rect")
    .attr("x", o.left).attr("y", plotTop)
    .attr("width", plotW).attr("height", plotBottom - plotTop)
    .attr("fill", "none").attr("stroke", "#333").attr("stroke-width", 1.6);

  const xAxis = g.append("g")
    .attr("transform", "translate(0," + plotBottom + ")")
    .call(d3.axisBottom(x).tickValues(o.xTicks).tickFormat(fmt).tickSize(12).tickSizeOuter(0).tickPadding(13));
  const yAxis = g.append("g")
    .attr("transform", "translate(" + o.left + ",0)")
    .call(d3.axisLeft(y).tickValues(o.yTicks).tickFormat(fmt).tickSize(12).tickSizeOuter(0).tickPadding(7));
  [xAxis, yAxis].forEach(a => {
    a.select(".domain").remove();
    a.selectAll("line").attr("stroke", "#333").attr("stroke-width", 1.6);
    a.selectAll("text").attr("font-size", 20.5).attr("fill", "#222")
      .style("font-family", '"Liberation Sans", Arial, Helvetica, sans-serif');
  });

  const cx = o.left + plotW / 2;
  g.append("text")
    .attr("x", cx).attr("y", 27)
    .attr("text-anchor", "middle")
    .attr("font-size", 24.5).attr("font-weight", "bold")
    .text(o.title);
  g.append("text")
    .attr("x", cx).attr("y", 493)
    .attr("text-anchor", "middle")
    .attr("font-size", 20.5)
    .text(o.xLabel);
  g.append("text")
    .attr("transform", "translate(" + o.yLabelX + "," + (plotTop + plotBottom) / 2 + ") rotate(-90)")
    .attr("text-anchor", "middle")
    .attr("font-size", 20.5)
    .text(o.yLabel);
}

panel({
  left: 86, xDomain: [-3.13, 3.137], yDomain: [-0.147, 3.821],
  xTicks: obsXTicks, yTicks: obsYTicks, points: obsPoints,
  title: "observed", xLabel: "log odds of occupancy", yLabel: "log mean abundance", yLabelX: 29
});
panel({
  left: 599, xDomain: [-9.05, 5.89], yDomain: [-2.757, 3.676],
  xTicks: predXTicks, yTicks: predYTicks, points: predAll,
  title: "predicted", xLabel: "logit(θ)", yLabel: "log(λ)", yLabelX: 548
});
</script>
</body>
</html>
